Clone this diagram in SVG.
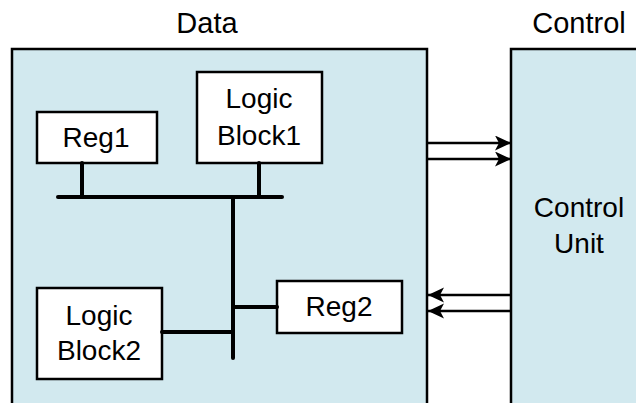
<svg xmlns="http://www.w3.org/2000/svg" width="636" height="403" viewBox="0 0 636 403">
  <style>
    .region { fill: #d2e9ef; stroke: #000; stroke-width: 2.5; }
    .block { fill: #fff; stroke: #000; stroke-width: 2.5; }
    .bus { stroke: #000; stroke-width: 4; fill: none; stroke-linecap: round; }
    .sig { stroke: #000; stroke-width: 2.5; fill: none; }
    text { font-family: "Liberation Sans", Arial, sans-serif; font-size: 28px; fill: #000; text-anchor: middle; }
    .title { font-size: 29px; }
  </style>
  <defs>
    <marker id="head" markerUnits="userSpaceOnUse" markerWidth="18" markerHeight="16" refX="16" refY="7.5" orient="auto">
      <path d="M0,0 L16,7.5 L0,15 L4,7.5 Z" fill="#000"/>
    </marker>
  </defs>
  <rect width="636" height="403" fill="#fff"/>

  <!-- section titles -->
  <text class="title" x="207" y="33">Data</text>
  <text class="title" x="579" y="33">Control</text>

  <!-- data path region -->
  <g id="datapath">
    <rect class="region" x="12" y="49" width="415" height="370"/>
  </g>

  <!-- control unit region -->
  <g id="control-unit">
    <rect class="region" x="511" y="49" width="140" height="370"/>
    <text x="579" y="217">Control</text>
    <text x="579" y="253">Unit</text>
  </g>

  <g id="reg1">
    <rect class="block" x="37" y="112" width="120" height="51"/>
    <text x="96" y="147">Reg1</text>
  </g>

  <g id="logic-block1">
    <rect class="block" x="197" y="72" width="125" height="91"/>
    <text x="259" y="108">Logic</text>
    <text x="259" y="145">Block1</text>
  </g>

  <g id="reg2">
    <rect class="block" x="277" y="281" width="125" height="52"/>
    <text x="339" y="316">Reg2</text>
  </g>

  <g id="logic-block2">
    <rect class="block" x="37" y="288" width="125" height="91"/>
    <text x="99" y="325">Logic</text>
    <text x="99" y="360">Block2</text>
  </g>

  <g id="connectors">
    <!-- shared bus -->
    <line class="bus" x1="58" y1="197" x2="282" y2="197"/>
    <line class="bus" x1="82" y1="163" x2="82" y2="197"/>
    <line class="bus" x1="259" y1="163" x2="259" y2="197"/>
    <line class="bus" x1="233" y1="197" x2="233" y2="358"/>
    <line class="bus" x1="233" y1="307" x2="277" y2="307"/>
    <line class="bus" x1="162" y1="332" x2="233" y2="332"/>
    <!-- status lines to control -->
    <line class="sig" x1="427" y1="143" x2="511" y2="143" marker-end="url(#head)"/>
    <line class="sig" x1="427" y1="159" x2="511" y2="159" marker-end="url(#head)"/>
    <!-- control lines to data path -->
    <line class="sig" x1="511" y1="295" x2="428" y2="295" marker-end="url(#head)"/>
    <line class="sig" x1="511" y1="311" x2="428" y2="311" marker-end="url(#head)"/>
  </g>
</svg>
